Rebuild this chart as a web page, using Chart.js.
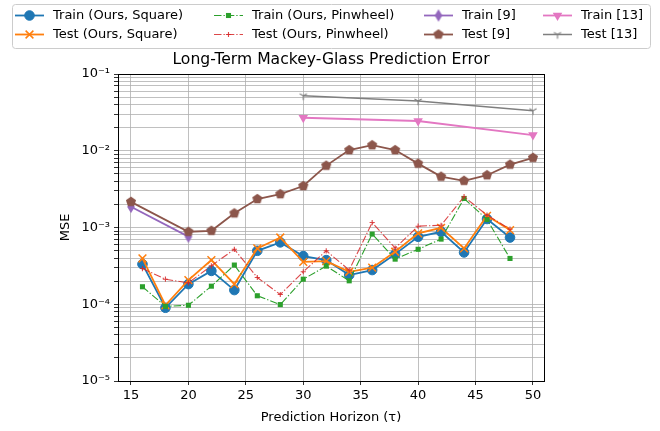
<!DOCTYPE html>
<html>
<head>
<meta charset="utf-8">
<script src="https://cdn.jsdelivr.net/npm/chart.js@4.4.1/dist/chart.umd.min.js"></script>
<style>
  body { margin: 0; background: #fff; }
  canvas { display: block; }
</style>
</head>
<body>
<canvas id="myChart" width="660" height="431"></canvas>
<script>
// prediction horizons
const horizonOurs = [16, 18, 20, 22, 24, 26, 28, 30, 32, 34, 36, 38, 40, 42, 44, 46, 48];
const horizonTrain9 = [15, 20];
const horizonTest9 = [15, 20, 22, 24, 26, 28, 30, 32, 34, 36, 38, 40, 42, 44, 46, 48, 50];
const horizon13 = [30, 40, 50];

// MSE values
const trainSquare = [3.33e-4, 9.0e-5, 1.83e-4, 2.72e-4, 1.53e-4, 4.97e-4, 6.4e-4, 4.24e-4, 3.76e-4, 2.4e-4, 2.79e-4, 4.5e-4, 7.57e-4, 8.8e-4, 4.73e-4, 1.29e-3, 7.4e-4];
const testSquare = [3.95e-4, 9.7e-5, 2.06e-4, 3.76e-4, 1.83e-4, 5.34e-4, 7.4e-4, 3.57e-4, 3.65e-4, 2.65e-4, 3.0e-4, 4.83e-4, 8.4e-4, 9.9e-4, 5.34e-4, 1.42e-3, 9.25e-4];
const trainPinwheel = [1.69e-4, 9.4e-5, 9.7e-5, 1.72e-4, 3.24e-4, 1.29e-4, 9.9e-5, 2.12e-4, 3.14e-4, 2.02e-4, 8.2e-4, 3.87e-4, 5.2e-4, 7.06e-4, 2.39e-3, 1.27e-3, 3.95e-4];
const testPinwheel = [2.92e-4, 2.12e-4, 1.9e-4, 3.17e-4, 5.2e-4, 2.23e-4, 1.34e-4, 2.65e-4, 4.97e-4, 2.79e-4, 1.16e-3, 5.4e-4, 1.04e-3, 1.07e-3, 2.52e-3, 1.45e-3, 9.5e-4];
const train9 = [1.86e-3, 7.6e-4];
const test9 = [2.16e-3, 8.8e-4, 9.06e-4, 1.53e-3, 2.35e-3, 2.72e-3, 3.47e-3, 6.4e-3, 1.02e-2, 1.18e-2, 1.02e-2, 6.8e-3, 4.6e-3, 4.06e-3, 4.8e-3, 6.6e-3, 8.1e-3];
const train13 = [0.0269, 0.0244, 0.016];
const test13 = [0.0521, 0.0445, 0.0333];

// ticks
const xTicks = [15, 20, 25, 30, 35, 40, 45, 50];
const yMajorTicks = [1e-5, 1e-4, 1e-3, 1e-2, 1e-1];
const yTickLabels = ['10⁻⁵', '10⁻⁴', '10⁻³', '10⁻²', '10⁻¹'];

Chart.defaults.font.family = '"DejaVu Sans"';
Chart.defaults.font.size = 13;
Chart.defaults.color = '#000';

// marker images for shapes chart.js doesn't have
function marker(w, h, draw) {
    const c = document.createElement('canvas');
    c.width = w; c.height = h;
    draw(c.getContext('2d'), w / 2, h / 2);
    return c;
}
const pentagon = marker(12, 12, function (g, cx, cy) {
    g.beginPath();
    for (let k = 0; k < 5; k++) {
        const a = -Math.PI / 2 + k * 2 * Math.PI / 5;
        g.lineTo(cx + 5.3 * Math.cos(a), cy + 5.3 * Math.sin(a));
    }
    g.closePath();
    g.fillStyle = '#8c564b';
    g.fill();
});
const thinDiamond = marker(10, 14, function (g, cx, cy) {
    g.beginPath();
    g.moveTo(cx, cy - 6.2); g.lineTo(cx + 3.8, cy); g.lineTo(cx, cy + 6.2); g.lineTo(cx - 3.8, cy);
    g.closePath();
    g.fillStyle = '#9467bd';
    g.fill();
});
const triDown = marker(12, 12, function (g, cx, cy) {
    g.strokeStyle = '#7f7f7f';
    g.lineWidth = 1.1;
    g.beginPath();
    g.moveTo(cx, cy); g.lineTo(cx, cy + 4.2);
    g.moveTo(cx, cy); g.lineTo(cx - 3.6, cy - 2.1);
    g.moveTo(cx, cy); g.lineTo(cx + 3.6, cy - 2.1);
    g.stroke();
});

function pts(xs, ys) {
    return xs.map(function (x, i) { return { x: x, y: ys[i] }; });
}

const dashDot = [7.5, 2, 1.3, 2];
const series = [
    { label: 'Train (Ours, Square)', data: pts(horizonOurs, trainSquare), borderColor: '#1f77b4', borderWidth: 1.8, borderDash: [], pointStyle: 'circle', pointRadius: 4.8, pointBorderWidth: 1 },
    { label: 'Test (Ours, Square)', data: pts(horizonOurs, testSquare), borderColor: '#ff7f0e', borderWidth: 1.8, borderDash: [], pointStyle: 'crossRot', pointRadius: 5.5, pointBorderWidth: 1.5 },
    { label: 'Train (Ours, Pinwheel)', data: pts(horizonOurs, trainPinwheel), borderColor: '#2ca02c', borderWidth: 1.1, borderDash: dashDot, pointStyle: 'rect', pointRadius: 3.6, pointBorderWidth: 0 },
    { label: 'Test (Ours, Pinwheel)', data: pts(horizonOurs, testPinwheel), borderColor: 'rgba(214,39,40,0.85)', borderWidth: 1.1, borderDash: dashDot, pointStyle: 'cross', pointRadius: 2.6, pointBorderWidth: 1.1 },
    { label: 'Train [9]', data: pts(horizonTrain9, train9), borderColor: '#9467bd', borderWidth: 1.8, borderDash: [], pointStyle: thinDiamond, pointRadius: 6, pointBorderWidth: 0 },
    { label: 'Test [9]', data: pts(horizonTest9, test9), borderColor: '#8c564b', borderWidth: 1.8, borderDash: [], pointStyle: pentagon, pointRadius: 5, pointBorderWidth: 0 },
    { label: 'Train [13]', data: pts(horizon13, train13), borderColor: '#e377c2', borderWidth: 1.8, borderDash: [], pointStyle: 'triangle', pointRotation: 180, pointRadius: 5.5, pointBorderWidth: 0 },
    { label: 'Test [13]', data: pts(horizon13, test13), borderColor: '#7f7f7f', borderWidth: 1.5, borderDash: [], pointStyle: triDown, pointRadius: 5, pointBorderWidth: 0 }
];
series.forEach(function (s, i) {
    s.backgroundColor = s.borderColor;
    s.pointBackgroundColor = s.borderColor;
    s.pointBorderColor = s.borderColor;
    s.pointHoverRadius = s.pointRadius;
    s.fill = false;
    s.tension = 0;
    s.order = series.length - i; // later series drawn on top
});

const plotDecor = {
    id: 'plotDecor',
    afterDraw: function (chart) {
        const ctx = chart.ctx;
        const a = chart.chartArea;
        ctx.save();
        // axes frame
        ctx.strokeStyle = '#000';
        ctx.lineWidth = 1;
        ctx.strokeRect(Math.round(a.left) + 0.5, Math.round(a.top) + 0.5, Math.round(a.right - a.left), Math.round(a.bottom - a.top));

        // title
        ctx.fillStyle = '#000';
        ctx.font = '15.6px "DejaVu Sans"';
        ctx.textAlign = 'center';
        ctx.textBaseline = 'middle';
        ctx.fillText('Long-Term Mackey-Glass Prediction Error', (a.left + a.right) / 2, 60);

        // legend, 4 columns filled top to bottom
        ctx.beginPath();
        ctx.roundRect(12.5, 4.5, 638, 44, 3);
        ctx.fillStyle = 'rgba(255,255,255,0.8)';
        ctx.fill();
        ctx.strokeStyle = '#cccccc';
        ctx.stroke();
        const colX = [15, 214, 424, 543];
        const rowY = [15.5, 34.5];
        ctx.font = '13px "DejaVu Sans"';
        ctx.textAlign = 'left';
        chart.data.datasets.forEach(function (ds, i) {
            const x0 = colX[Math.floor(i / 2)];
            const y = rowY[i % 2];
            ctx.strokeStyle = ds.borderColor;
            ctx.lineWidth = ds.borderWidth;
            ctx.setLineDash(ds.borderDash);
            ctx.beginPath();
            ctx.moveTo(x0, y); ctx.lineTo(x0 + 29, y);
            ctx.stroke();
            ctx.setLineDash([]);
            ctx.fillStyle = ds.borderColor;
            ctx.lineWidth = ds.pointBorderWidth;
            Chart.helpers.drawPoint(ctx, { pointStyle: ds.pointStyle, radius: ds.pointRadius, rotation: ds.pointRotation || 0, borderWidth: ds.pointBorderWidth }, x0 + 14.5, y);
            ctx.fillStyle = '#000';
            ctx.fillText(ds.label, x0 + 38, y + 0.5);
        });
        ctx.restore();
    }
};

const tickFont = { family: '"DejaVu Sans"', size: 13 };
new Chart(document.getElementById('myChart'), {
    type: 'line',
    data: { datasets: series },
    options: {
        responsive: false,
        animation: false,
        devicePixelRatio: 1,
        layout: { padding: { top: 74, right: 116, left: 0, bottom: 0 } },
        plugins: { legend: { display: false }, title: { display: false }, tooltip: { enabled: false } },
        scales: {
            x: {
                type: 'linear',
                min: 13.87,
                max: 50.96,
                afterBuildTicks: function (s) { s.ticks = xTicks.map(function (v) { return { value: v }; }); },
                afterFit: function (s) { s.height = 50; },
                ticks: { font: tickFont, color: '#000', padding: 3, autoSkip: false, maxRotation: 0, callback: function (v) { return String(v); } },
                grid: { color: '#b0b0b0', lineWidth: 0.8, tickLength: 4, tickColor: '#000' },
                border: { color: '#000', width: 1 },
                title: { display: true, text: 'Prediction Horizon (τ)', font: tickFont, color: '#000', padding: { top: 0, bottom: 6 } }
            },
            y: {
                type: 'logarithmic',
                min: 1e-5,
                max: 0.1,
                afterBuildTicks: function (s) {
                    const t = [];
                    yMajorTicks.forEach(function (m, i) {
                        t.push({ value: m, major: true });
                        if (i < yMajorTicks.length - 1) {
                            for (let k = 2; k <= 9; k++) t.push({ value: m * k });
                        }
                    });
                    s.ticks = t;
                },
                afterFit: function (s) { s.width = 118; },
                ticks: {
                    font: tickFont, color: '#000', padding: 4, autoSkip: false,
                    callback: function (v) {
                        const idx = yMajorTicks.findIndex(function (m) { return Math.abs(m - v) / m < 1e-6; });
                        return idx >= 0 ? yTickLabels[idx] : '';
                    }
                },
                grid: { color: '#b0b0b0', lineWidth: 0.8, tickLength: 4, tickColor: '#000' },
                border: { color: '#000', width: 1 },
                title: { display: true, text: 'MSE', font: tickFont, color: '#000', padding: { top: 58, bottom: 0 } }
            }
        }
    },
    plugins: [plotDecor]
});
</script>
</body>
</html>
